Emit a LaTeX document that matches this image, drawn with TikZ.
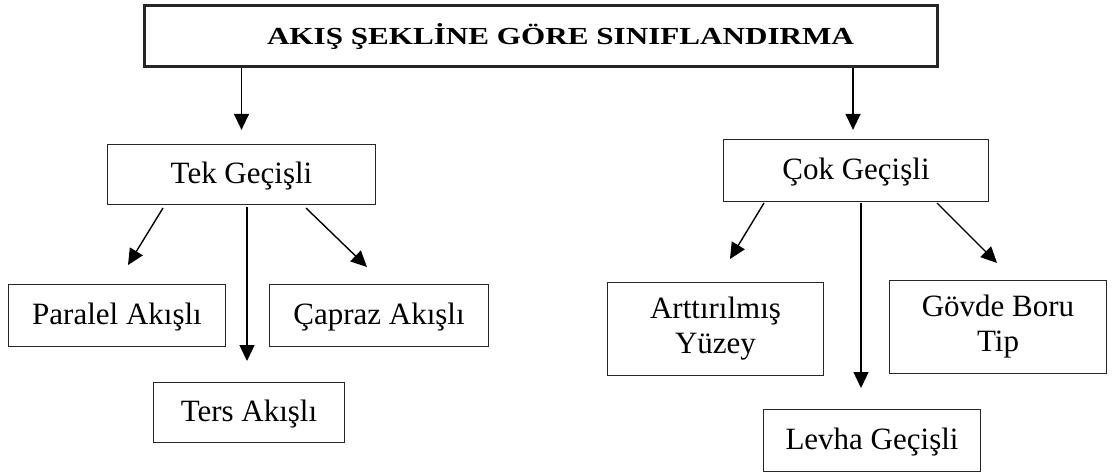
\documentclass[tikz,border=0pt]{standalone}
\usepackage{fontspec}
\usepackage{graphicx}
\setmainfont{Liberation Serif}
\usetikzlibrary{arrows.meta}
\begin{document}
\begin{tikzpicture}[x=1pt,y=-1pt,
  box/.style={draw=black!85,line width=1.3pt,rectangle,inner sep=0pt,align=center,
    font=\fontsize{31}{35}\selectfont},
  oneline/.style={text height=22pt,text depth=5pt},
  titlebox/.style={draw=black!85,line width=3pt,rectangle,inner sep=0pt,
    minimum width=793pt,minimum height=61pt},
  arr/.style={line width=1.4pt,-{Triangle[length=16pt,width=15pt]}}]
\useasboundingbox (0,0) rectangle (1113,475);
\node[titlebox] (title) at (541,36) {\hspace*{39pt}\raisebox{0pt}[16pt][0pt]{\scalebox{1.27}[1]{\fontsize{24.5}{28}\selectfont\bfseries AKIŞ ŞEKLİNE GÖRE SINIFLANDIRMA}}};
% left branch
\node[box,oneline,minimum width=268pt,minimum height=60pt] (tek) at (241.5,174.5) {Tek Geçişli};
\node[box,oneline,minimum width=217pt,minimum height=62pt] (paralel) at (117,315.5) {Paralel Akışlı};
\node[box,oneline,minimum width=219pt,minimum height=62pt] (capraz) at (379,315.5) {Çapraz Akışlı};
\node[box,oneline,minimum width=191pt,minimum height=60pt] (ters) at (249,412.5) {Ters Akışlı};
% right branch
\node[box,oneline,minimum width=265pt,minimum height=62pt] (cok) at (856,170.5) {Çok Geçişli};
\node[box,minimum width=216pt,minimum height=93pt] (artt) at (715.5,329) {Arttırılmış\\Yüzey};
\node[box,minimum width=217pt,minimum height=93pt] (govde) at (998,327) {Gövde Boru\\Tip};
\node[box,oneline,minimum width=217pt,minimum height=62pt] (levha) at (872,440.5) {Levha Geçişli};
% free arrow ends
\coordinate (t1s) at (163,208);
\coordinate (t1e) at (128,265);
\coordinate (t2s) at (247,207);
\coordinate (t2e) at (247,361);
\coordinate (t3s) at (306,208);
\coordinate (t3e) at (367,267);
\coordinate (c1s) at (764,203);
\coordinate (c1e) at (730,259);
\coordinate (c2s) at (861,203);
\coordinate (c2e) at (861,388);
\coordinate (c3s) at (937,203);
\coordinate (c3e) at (997,263);
% arrows
\draw[arr,shorten >=14pt] (title.south -| tek.north) -- (tek.north);
\draw[arr,shorten >=9pt] (title.south -| 853,0) -- (cok.north -| 853,0);
\draw[arr] (t1s) -- (t1e);
\draw[arr] (t2s) -- (t2e);
\draw[arr] (t3s) -- (t3e);
\draw[arr] (c1s) -- (c1e);
\draw[arr] (c2s) -- (c2e);
\draw[arr] (c3s) -- (c3e);
\end{tikzpicture}
\end{document}
